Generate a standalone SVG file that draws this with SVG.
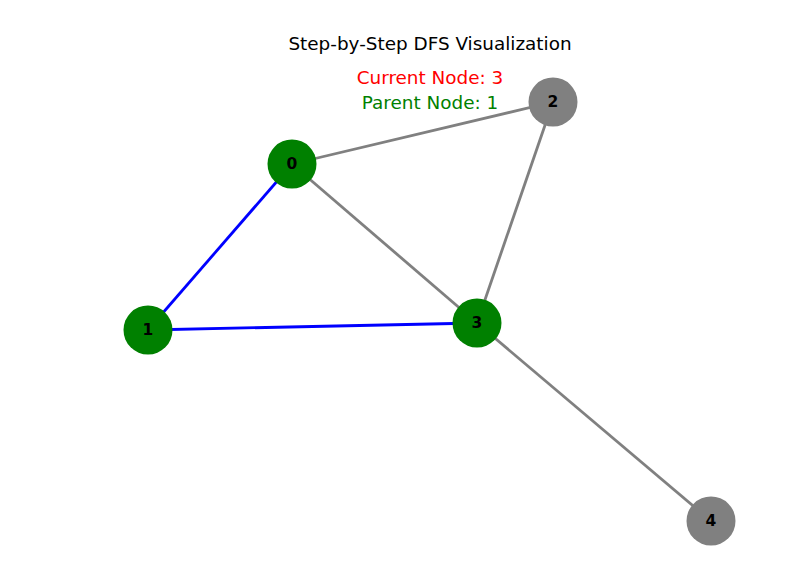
<svg xmlns="http://www.w3.org/2000/svg" width="797" height="569" viewBox="0 0 797 569">
<style>
.e{stroke-width:2.8;fill:none;stroke-linecap:butt}
.g{stroke:#808080}
.b{stroke:#0000ff}
.n circle{stroke:none}
.n text{font-family:"DejaVu Sans",sans-serif;font-size:15.5px;font-weight:bold;fill:#000;text-anchor:middle;dominant-baseline:central}
.t{font-family:"DejaVu Sans",sans-serif;font-size:18.4px;text-anchor:middle}
</style>
<rect width="797" height="569" fill="#fff"/>
<text class="t" x="430" y="50" fill="#000">Step-by-Step DFS Visualization</text>
<text class="t" x="430" y="84" fill="#ff0000">Current Node: 3</text>
<text class="t" x="430" y="109" fill="#008000">Parent Node: 1</text>
<g id="connectors">
<line class="e b" x1="292" y1="164" x2="148" y2="330"/>
<line class="e g" x1="292" y1="164" x2="553" y2="102"/>
<line class="e g" x1="292" y1="164" x2="477" y2="323"/>
<line class="e b" x1="148" y1="330" x2="477" y2="323"/>
<line class="e g" x1="553" y1="102" x2="477" y2="323"/>
<line class="e g" x1="477" y1="323" x2="711" y2="521"/>
</g>
<g id="node0" class="n"><circle cx="292" cy="164" r="24.5" fill="#008000"/><text x="292" y="164">0</text></g>
<g id="node1" class="n"><circle cx="148" cy="330" r="24.5" fill="#008000"/><text x="148" y="330">1</text></g>
<g id="node2" class="n"><circle cx="553" cy="102" r="24.5" fill="#808080"/><text x="553" y="102">2</text></g>
<g id="node3" class="n"><circle cx="477" cy="323" r="24.5" fill="#008000"/><text x="477" y="323">3</text></g>
<g id="node4" class="n"><circle cx="711" cy="521" r="24.5" fill="#808080"/><text x="711" y="521">4</text></g>
</svg>
